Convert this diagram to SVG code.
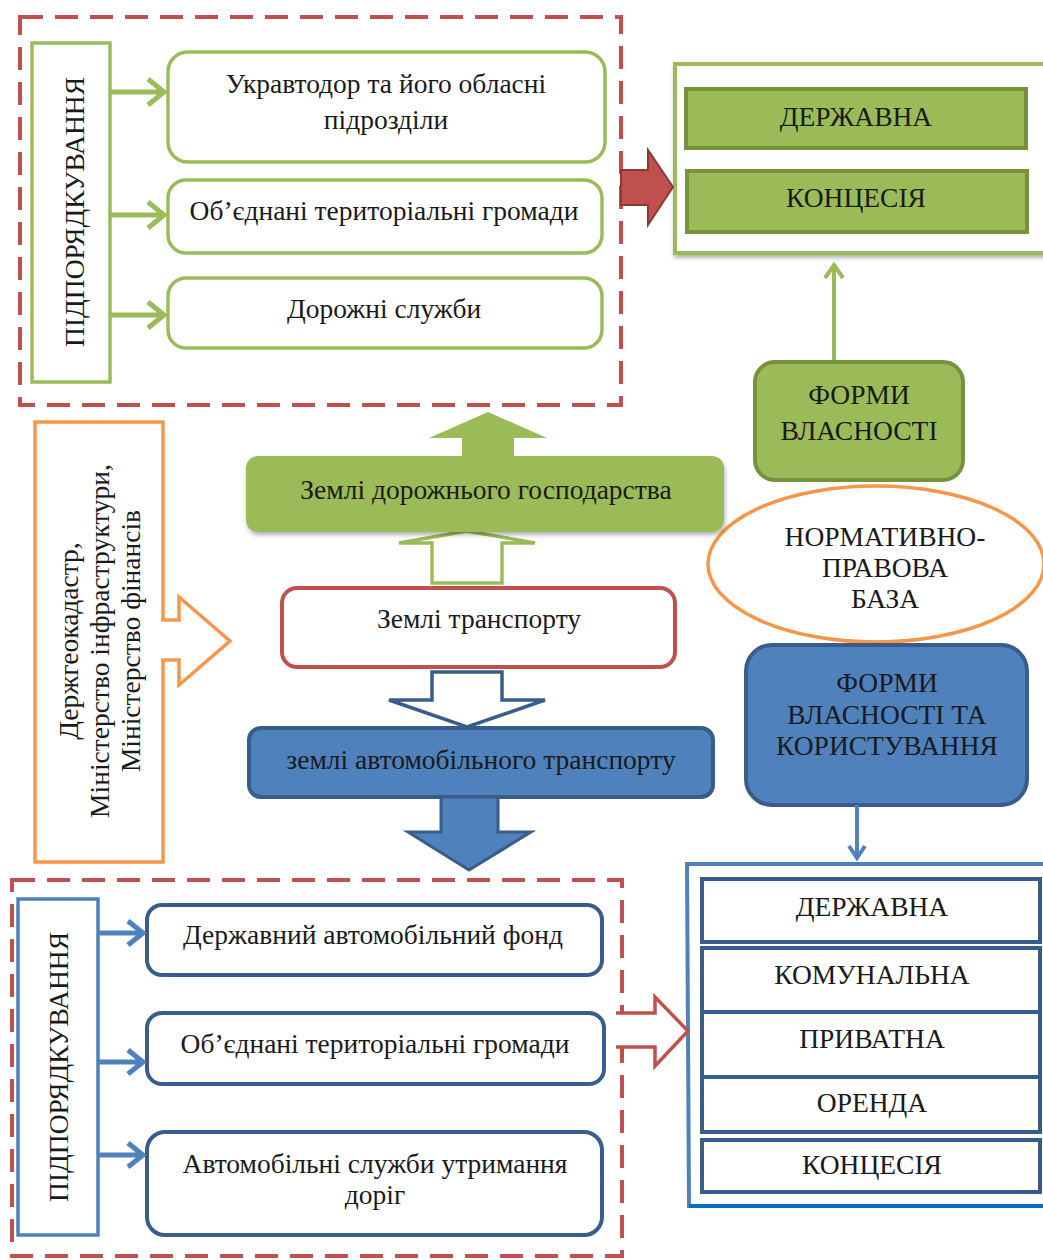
<svg xmlns="http://www.w3.org/2000/svg" width="1043" height="1260" viewBox="0 0 1043 1260">
<defs>
<filter id="sh" x="-5%" y="-5%" width="110%" height="120%">
<feDropShadow dx="1" dy="3" stdDeviation="2" flood-color="#000" flood-opacity="0.3"/>
</filter>
</defs>
<style>
text{font-family:"Liberation Serif","Times New Roman",serif;font-size:27.5px;fill:#1a1a1a;text-anchor:middle}
.dash{fill:none;stroke:#C0504D;stroke-width:4;stroke-dasharray:23 12}
.gbox{fill:#fff;stroke:#9BBB59;stroke-width:3.5}
.bbox{fill:#fff;stroke:#385D8A;stroke-width:4}
.gfill{fill:#9BBB59;stroke:#76923C;stroke-width:4}
.bfill{fill:#4F81BD;stroke:#385D8A;stroke-width:4}
.garr{fill:none;stroke:#9BBB59;stroke-width:5}
.barr{fill:none;stroke:#4F81BD;stroke-width:5}
</style>

<g id="top-group">
<rect class="dash" x="20" y="17" width="601" height="388"/>
</g>
<g id="podp-top">
<rect x="32" y="43" width="78" height="339" fill="#fff" stroke="#9BBB59" stroke-width="3.5"/>
<text transform="translate(84,212) rotate(-90)">ПІДПОРЯДКУВАННЯ</text>
</g>
<g id="ukravtodor">
<rect class="gbox" x="168" y="52" width="437" height="110" rx="20"/>
<text x="386" y="93">Укравтодор та його обласні</text>
<text x="386" y="129">підрозділи</text>
</g>
<g id="otg-top">
<rect class="gbox" x="168" y="180" width="434" height="73" rx="18"/>
<text x="384" y="220">Об’єднані територіальні громади</text>
</g>
<g id="dorozhni">
<rect class="gbox" x="168" y="278" width="434" height="70" rx="18"/>
<text x="384" y="318">Дорожні служби</text>
</g>

<g id="vlasnist-top">
<rect x="675" y="64" width="372" height="189" fill="#fff" stroke="#9BBB59" stroke-width="4" filter="url(#sh)"/>
<rect class="gfill" x="686" y="89" width="340" height="59"/>
<text x="856" y="126">ДЕРЖАВНА</text>
<rect class="gfill" x="687" y="171" width="340" height="61"/>
<text x="856" y="207">КОНЦЕСІЯ</text>
</g>

<g id="formy-vlasnosti">
<rect class="gfill" x="755" y="362" width="208" height="118" rx="20"/>
<text x="859" y="404">ФОРМИ</text>
<text x="859" y="440">ВЛАСНОСТІ</text>
</g>

<g id="normatyvna">
<ellipse cx="876" cy="564" rx="168" ry="78" fill="#fff" stroke="#F79646" stroke-width="3.5"/>
<text x="885" y="546">НОРМАТИВНО-</text>
<text x="885" y="577">ПРАВОВА</text>
<text x="885" y="608">БАЗА</text>
</g>

<g id="formy-korystuvannia">
<rect class="bfill" x="746" y="645" width="281" height="160" rx="26"/>
<text x="887" y="692">ФОРМИ</text>
<text x="887" y="724">ВЛАСНОСТІ ТА</text>
<text x="887" y="755">КОРИСТУВАННЯ</text>
</g>

<g id="vlasnist-bottom">
<path d="M1047,864 L687,864 L689,1206 L1047,1206" fill="#fff" stroke="#4F81BD" stroke-width="4"/>
<line x1="689" y1="1206" x2="1047" y2="1206" stroke="#0070C0" stroke-width="4"/>
<rect class="bbox" x="702" y="879" width="338" height="63"/>
<text x="872" y="916">ДЕРЖАВНА</text>
<rect class="bbox" x="702" y="948" width="338" height="64"/>
<text x="872" y="984">КОМУНАЛЬНА</text>
<rect class="bbox" x="702" y="1012" width="338" height="65"/>
<text x="872" y="1048">ПРИВАТНА</text>
<rect class="bbox" x="702" y="1077" width="338" height="55"/>
<text x="872" y="1112">ОРЕНДА</text>
<rect class="bbox" x="702" y="1140" width="338" height="52"/>
<text x="872" y="1174">КОНЦЕСІЯ</text>
</g>

<g id="organy">
<path d="M35,422 L163,422 L163,620 L179,620 L179,597 L230,641 L179,685 L179,660 L163,660 L163,862 L35,862 Z" fill="#fff" stroke="#F79646" stroke-width="3.5"/>
<text transform="translate(78,641) rotate(-90)">Держгеокадастр,</text>
<text transform="translate(109,641) rotate(-90)">Міністерство інфраструктури,</text>
<text transform="translate(140,641) rotate(-90)">Міністерство фінансів</text>
</g>

<g id="zemli-transportu">
<rect x="282" y="588" width="393" height="79" rx="15" fill="#fff" stroke="#C0504D" stroke-width="4"/>
<text x="479" y="628">Землі транспорту</text>
</g>

<g id="zemli-avto">
<rect class="bfill" x="249" y="728" width="464" height="69" rx="12"/>
<text x="481" y="769">землі автомобільного транспорту</text>
</g>

<g id="bottom-group">
<rect class="dash" x="12" y="880" width="610" height="376"/>
</g>
<g id="podp-bottom">
<rect x="18" y="899" width="80" height="336" fill="#fff" stroke="#4F81BD" stroke-width="3.5"/>
<text transform="translate(68,1067) rotate(-90)">ПІДПОРЯДКУВАННЯ</text>
</g>
<g id="derzh-fond">
<rect class="bbox" x="147" y="905" width="455" height="70" rx="15"/>
<text x="373" y="944">Державний автомобільний фонд</text>
</g>
<g id="otg-bottom">
<rect class="bbox" x="147" y="1013" width="457" height="71" rx="15"/>
<text x="375" y="1053">Об’єднані територіальні громади</text>
</g>
<g id="avto-sluzhby">
<rect class="bbox" x="147" y="1132" width="455" height="103" rx="18"/>
<text x="375" y="1173">Автомобільні служби утримання</text>
<text x="375" y="1204">доріг</text>
</g>

<g id="connectors">
<path class="garr" d="M110,92 H164 M148,79 L164,92 L148,105"/>
<path class="garr" d="M110,215 H164 M148,202 L164,215 L148,228"/>
<path class="garr" d="M110,315 H164 M148,302 L164,315 L148,328"/>
<path d="M621,170 L648,170 L648,150 L673,187 L648,225 L648,205 L621,205 Z" fill="#C0504D" stroke="#8C3836" stroke-width="2"/>
<path d="M834,360 V266 M825,278 L834,265 L843,278" fill="none" stroke="#9BBB59" stroke-width="4"/>
<path d="M462,457 L462,438 L429,438 L488,412 L547,438 L514,438 L514,457 Z" fill="#9BBB59"/>
<path d="M432,583 L432,543 L399,543 L467,531 L535,543 L502,543 L502,583 Z" fill="#fff" stroke="#9BBB59" stroke-width="3.5"/>
<path d="M432,672 L502,672 L502,700 L545,700 L467,727 L389,700 L432,700 Z" fill="#fff" stroke="#385D8A" stroke-width="3.5"/>
<path d="M441,797 L498,797 L498,832 L531,832 L469,870 L408,832 L441,832 Z" fill="#4F81BD" stroke="#385D8A" stroke-width="3"/>
<path d="M857,805 V857 M849,846 L857,858 L865,846" fill="none" stroke="#4F81BD" stroke-width="4"/>
<path d="M616,1013 L655,1013 L655,997 L688,1031 L655,1066 L655,1047 L616,1047" fill="#fff" stroke="#C0504D" stroke-width="3.5"/>
<path class="barr" d="M98,933 H143 M128,921 L143,933 L128,945"/>
<path class="barr" d="M98,1062 H143 M128,1050 L143,1062 L128,1074"/>
<path class="barr" d="M98,1155 H143 M128,1143 L143,1155 L128,1167"/>
</g>

<g id="zemli-dorozhnogo">
<rect x="246" y="456" width="478" height="76" rx="12" fill="#9BBB59" filter="url(#sh)"/>
<text x="486" y="499">Землі дорожнього господарства</text>
</g>
</svg>
